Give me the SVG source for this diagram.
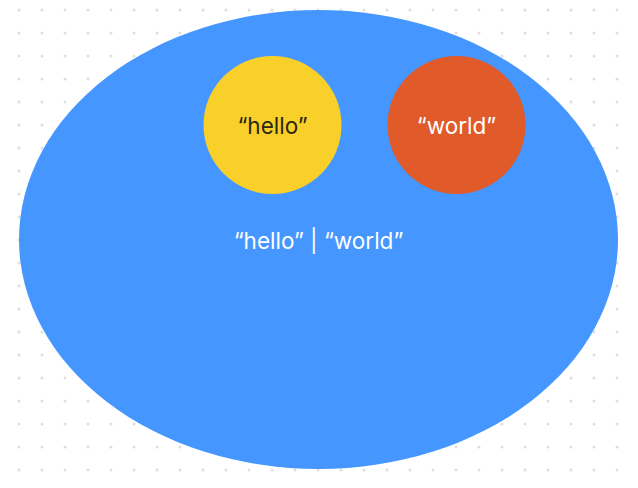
<svg xmlns="http://www.w3.org/2000/svg" width="638" height="488" viewBox="0 0 638 488">
<defs>
<pattern id="dots" x="0" y="0" width="23" height="23" patternUnits="userSpaceOnUse">
<circle cx="19" cy="10" r="1.5" fill="#dedede"/>
</pattern>
<style>
.lbl{font-family:Inter,"Liberation Sans",sans-serif;font-size:22.5px;text-anchor:middle;dominant-baseline:central}
</style>
</defs>
<rect width="638" height="488" fill="#ffffff"/>
<rect width="638" height="488" fill="url(#dots)"/>
<g id="union">
<ellipse cx="318.5" cy="239.5" rx="299.5" ry="229.5" fill="#4597ff"/>
<text class="lbl" x="318.5" y="240" fill="#ffffff">“hello” | “world”</text>
</g>
<g id="hello">
<circle cx="272.5" cy="125" r="69" fill="#f9cf2a"/>
<text class="lbl" x="272.5" y="125" fill="#2b2613">“hello”</text>
</g>
<g id="world">
<circle cx="456.5" cy="125" r="69" fill="#e05a2a"/>
<text class="lbl" x="456.5" y="125" fill="#ffffff">“world”</text>
</g>
<g id="connectors"/>
</svg>
